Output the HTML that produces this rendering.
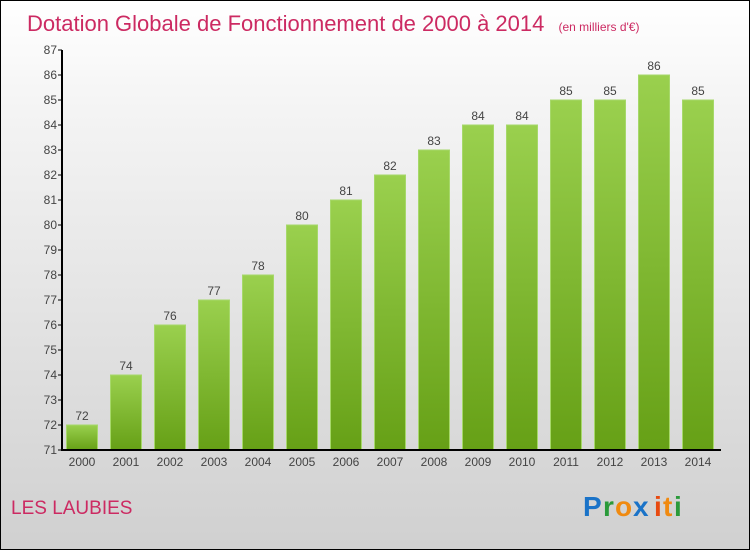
<!DOCTYPE html>
<html><head><meta charset="utf-8"><style>
body{margin:0}
#c{position:relative;width:748px;height:548px;border:1px solid #000;background:linear-gradient(#ffffff,#f4f4f4 20%,#d0d0d0);overflow:hidden;font-family:"Liberation Sans",sans-serif}
</style></head><body>
<div id="c">
<svg width="748" height="548">
<defs><linearGradient id="g" x1="0" y1="0" x2="0" y2="1"><stop offset="0" stop-color="#9ad04e"/><stop offset="1" stop-color="#66a016"/></linearGradient></defs>
<text x="26" y="30" font-size="22" fill="#cc2a62">Dotation Globale de Fonctionnement de 2000 à 2014 <tspan font-size="12" dx="8">(en milliers d'€)</tspan></text>
<g id="plot"></g>
<text x="10" y="513" font-size="19" fill="#cc2a62">LES LAUBIES</text>
<g font-size="28" font-weight="bold">
<text x="582" y="515" fill="#1a73c8">P</text><text x="602" y="515" fill="#2a9a3a">r</text><text x="614" y="515" fill="#f08a10">o</text><text x="632" y="515" fill="#1a73c8">x</text><text x="653" y="515" fill="#e84a10">i</text><text x="662" y="515" fill="#f08a10">t</text><text x="673" y="515" fill="#2a9a3a">i</text>
</g>
</svg></div>
<script>
const years=["2000","2001","2002","2003","2004","2005","2006","2007","2008","2009","2010","2011","2012","2013","2014"];
const values=[72,74,76,77,78,80,81,82,83,84,84,85,85,86,85];
const yTicks=[71,72,73,74,75,76,77,78,79,80,81,82,83,84,85,86,87];
const ns="http://www.w3.org/2000/svg",g=document.getElementById('plot');
const yMin=71,yMax=87,yTop=49,yBot=449,x0=81,step=44,bw=31;
const Y=v=>yBot-(v-yMin)/(yMax-yMin)*(yBot-yTop);
const X=i=>x0+i*step;
function el(t,a){const e=document.createElementNS(ns,t);for(const k in a)e.setAttribute(k,a[k]);g.appendChild(e);return e;}
yTicks.forEach(v=>{
const t=el('text',{x:56,y:Y(v)+4,'font-size':12,fill:'#444','text-anchor':'end'});t.textContent=v;


el('line',{x1:57,x2:61,y1:Y(v),y2:Y(v),stroke:'#000'});
});
values.forEach((v,i)=>{
const r=el('rect',{x:X(i)-bw/2,y:Y(v),width:bw,height:yBot-Y(v),fill:'url(#g)',stroke:'#a6d86a','stroke-width':1});


const l=el('text',{x:X(i),y:Y(v)-5,'font-size':12,fill:'#444','text-anchor':'middle'});l.textContent=v;


const xl=el('text',{x:X(i),y:yBot+16,'font-size':12,fill:'#444','text-anchor':'middle'});xl.textContent=years[i];


});
const ya=el('line',{x1:61,x2:61,y1:yTop,y2:yBot,stroke:'#000','stroke-width':2});


const xa=el('line',{x1:60,x2:720,y1:yBot,y2:yBot,stroke:'#000','stroke-width':2});


</script>
</body></html>
